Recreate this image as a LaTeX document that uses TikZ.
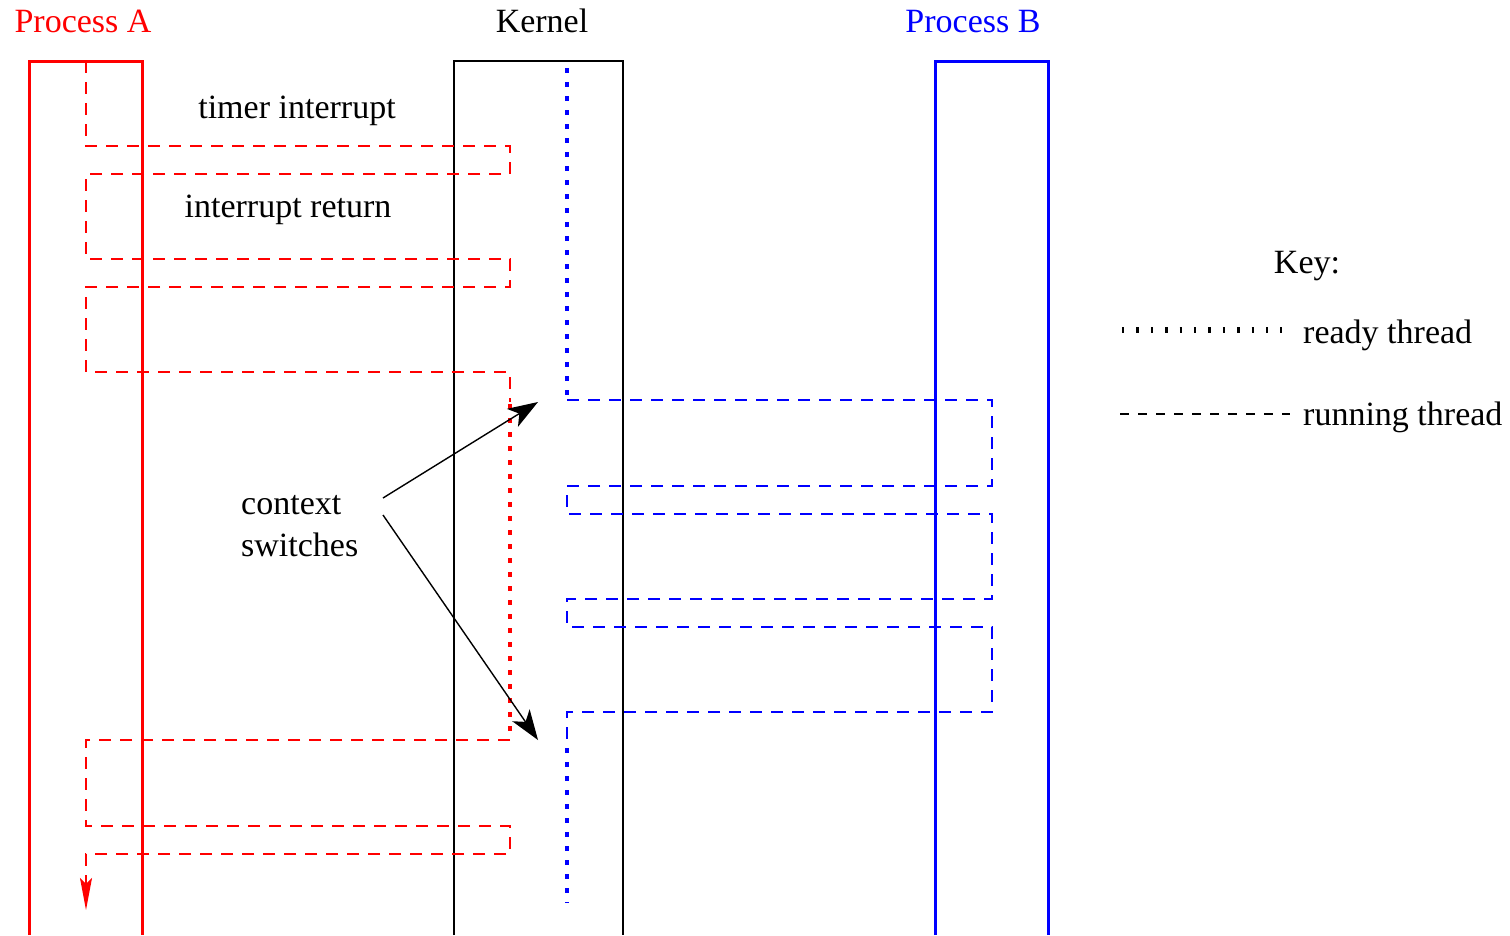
\documentclass[tikz,border=0pt]{standalone}
\usepackage{fontspec}
\setmainfont{Liberation Serif}
\usepackage{tikz}
\usetikzlibrary{arrows.meta}

\tikzset{
  lifeline/.style={line width=3pt},
  running/.style={line width=1.4pt,dash pattern=on 12pt off 9pt},
  ready/.style={line width=3.6pt,dash pattern=on 5pt off 9pt},
  keydots/.style={line width=6pt,dash pattern=on 2.4pt off 12pt},
  label/.style={inner sep=0pt,font=\fontsize{34pt}{42pt}\selectfont}
}

\begin{document}
\begin{tikzpicture}[x=1pt,y=-1pt]
    \useasboundingbox (0,0) rectangle (1510,935);

    \begin{scope}[every node/.style={label,anchor=base}]
      \node[text=red] (procA) at (83,32) {Process A};
      \node (kern) at (542,32) {Kernel};
      \node[text=blue] (procB) at (973,32) {Process B};
      \node (timer) at (297,118) {timer interrupt};
      \node (iret) at (288,217) {interrupt return};
      \node[anchor=base west,align=left] (cs) at (241,556) {context\\switches};
      \node (key) at (1307,273) {Key:};
      \node[anchor=base west] (rdy) at (1303,343) {ready thread};
      \node[anchor=base west] (run) at (1303,425) {running thread};
    \end{scope}

    % lifelines
    \draw[lifeline,red] (29,935) -- (29,61) -- (142,61) -- (142,935);
    \draw[line width=1.4pt] (454,935) -- (454,61) -- (623,61) -- (623,935);
    \draw[lifeline,blue] (935,935) -- (935,61) -- (1048,61) -- (1048,935);

    % process A thread
    \draw[running,red] (86,61) -- (86,146) -- (510,146) -- (510,174) -- (86,174)
      -- (86,259) -- (510,259) -- (510,287) -- (86,287) -- (86,372) -- (510,372) -- (510,402);
    \draw[ready,red] (510,404) -- (510,738);
    \draw[running,red,-{Stealth[length=32pt,width=12pt,inset=6pt]}] (510,740) -- (86,740)
      -- (86,826) -- (510,826) -- (510,854) -- (86,854) -- (86,910);

    % process B thread
    \draw[ready,blue] (567,68) -- (567,398);
    \draw[running,blue] (567,400) -- (992,400) -- (992,486) -- (567,486) -- (567,514)
      -- (992,514) -- (992,599) -- (567,599) -- (567,627) -- (992,627) -- (992,712)
      -- (567,712) -- (567,742);
    \draw[ready,blue] (567,748) -- (567,903);

    % context switch pointers
    \coordinate (csup) at (383,498);
    \coordinate (csdn) at (383,515);
    \coordinate (swin) at (538,402);
    \coordinate (swout) at (538,740);
    \begin{scope}[>={Stealth[length=30pt,width=21pt,inset=8pt]},line width=1.4pt]
      \draw[->] (csup) -- (swin);
      \draw[->] (csdn) -- (swout);
    \end{scope}

    % key
    \coordinate (kd1) at (1122,330);
    \coordinate (kd2) at (1282,330);
    \coordinate (kr1) at (1120,414);
    \coordinate (kr2) at (1290,414);
    \draw[keydots] (kd1) -- (kd2);
    \draw[line width=1.4pt,dash pattern=on 9pt off 9pt] (kr1) -- (kr2);
\end{tikzpicture}
\end{document}
